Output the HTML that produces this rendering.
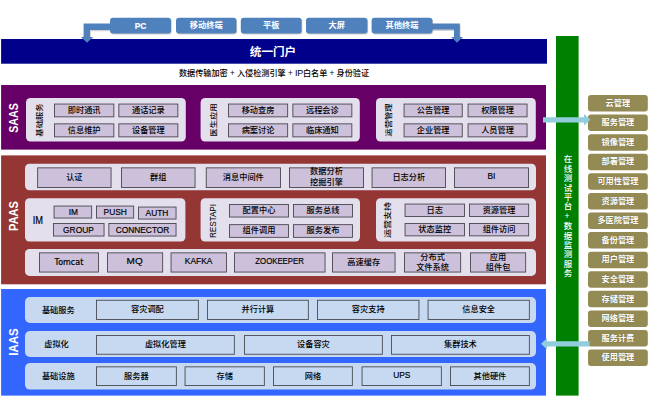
<!DOCTYPE html><html lang="zh"><head><meta charset="utf-8"><title>architecture</title><style>
*{margin:0;padding:0;box-sizing:border-box}
html,body{width:650px;height:418px;background:#fff;overflow:hidden}
body{position:relative;font-family:"Liberation Sans","Noto Sans CJK SC",sans-serif;font-size:8px;color:#000}
svg{position:absolute;left:0;top:0}
.x{position:absolute;display:flex;align-items:center;justify-content:center;text-align:center;line-height:9px;white-space:nowrap;font-size:8.2px;font-weight:500}
.w{color:#fff;font-weight:bold}
.vl{position:absolute;white-space:nowrap;transform-origin:center center;display:flex;align-items:center;justify-content:center;font-weight:500}
.big{color:#fff;font-weight:bold;font-size:12.5px}
.l{display:inline-block;-webkit-text-stroke:.2px currentColor;font-size:9.5px;transform:scaleX(.88);transform-origin:center}
</style></head><body>
<svg width="650" height="418" viewBox="0 0 650 418" shape-rendering="geometricPrecision">
<g fill="#9a9a9a" opacity=".45" transform="translate(0.9,1.3)"><path d="M112 23.4H83.6V37H81L87 42.8L93 37H90V30H112Z"/><path d="M430 23.4H459.8V37H462.8L457 42.8L451.4 37H454V29.6H430Z"/></g>
<g fill="#4F81BD"><path d="M112 23.4H83.6V37H81L87 42.8L93 37H90V30H112Z"/><path d="M430 23.4H459.8V37H462.8L457 42.8L451.4 37H454V29.6H430Z"/></g>
<rect x="1.1" y="39" width="545.9" height="24.7" fill="#00008B"/>
<g fill="#4F81BD"><path d="M83.6 36V37H81L87 42.8L93 37H90V36Z"/><path d="M454 36V37H451.4L457 42.8L462.8 37H459.8V36Z"/></g>
<rect x="110.7" y="18.6" width="61.0" height="16.0" rx="3" fill="rgba(120,120,120,.4)"/>
<rect x="110" y="17.8" width="61" height="15.8" rx="3" fill="#4F81BD"/>
<rect x="176.7" y="18.6" width="60.4" height="16.0" rx="3" fill="rgba(120,120,120,.4)"/>
<rect x="176" y="17.8" width="60.4" height="15.8" rx="3" fill="#4F81BD"/>
<rect x="241.5" y="18.6" width="60.8" height="16.0" rx="3" fill="rgba(120,120,120,.4)"/>
<rect x="240.8" y="17.8" width="60.8" height="15.8" rx="3" fill="#4F81BD"/>
<rect x="306.7" y="18.6" width="61.4" height="16.0" rx="3" fill="rgba(120,120,120,.4)"/>
<rect x="306" y="17.8" width="61.4" height="15.8" rx="3" fill="#4F81BD"/>
<rect x="372.3" y="18.6" width="60.8" height="16.0" rx="3" fill="rgba(120,120,120,.4)"/>
<rect x="371.6" y="17.8" width="60.8" height="15.8" rx="3" fill="#4F81BD"/>
<rect x="1.1" y="85" width="544.9" height="64.6" fill="#660066"/>
<rect x="26" y="98" width="159.8" height="43.5" rx="4.5" fill="#E4DFEC"/>
<rect x="200.6" y="98" width="159.2" height="43.5" rx="4.5" fill="#E4DFEC"/>
<rect x="376" y="98" width="159.8" height="43.5" rx="4.5" fill="#E4DFEC"/>
<rect x="54.45" y="104.05" width="59.4" height="12.8" fill="#CCC0DA" stroke="#4a464e" stroke-width="0.9"/>
<rect x="118.85" y="104.05" width="59.0" height="12.8" fill="#CCC0DA" stroke="#4a464e" stroke-width="0.9"/>
<rect x="54.45" y="123.85" width="59.4" height="13.0" fill="#CCC0DA" stroke="#4a464e" stroke-width="0.9"/>
<rect x="118.85" y="123.85" width="59.0" height="13.0" fill="#CCC0DA" stroke="#4a464e" stroke-width="0.9"/>
<rect x="228.45" y="104.05" width="59.2" height="12.8" fill="#CCC0DA" stroke="#4a464e" stroke-width="0.9"/>
<rect x="292.85" y="104.05" width="59.0" height="12.8" fill="#CCC0DA" stroke="#4a464e" stroke-width="0.9"/>
<rect x="228.45" y="123.85" width="59.2" height="13.0" fill="#CCC0DA" stroke="#4a464e" stroke-width="0.9"/>
<rect x="292.85" y="123.85" width="59.0" height="13.0" fill="#CCC0DA" stroke="#4a464e" stroke-width="0.9"/>
<rect x="404.05" y="104.05" width="58.2" height="12.8" fill="#CCC0DA" stroke="#4a464e" stroke-width="0.9"/>
<rect x="468.05" y="104.05" width="59.0" height="12.8" fill="#CCC0DA" stroke="#4a464e" stroke-width="0.9"/>
<rect x="404.05" y="123.85" width="58.2" height="13.0" fill="#CCC0DA" stroke="#4a464e" stroke-width="0.9"/>
<rect x="468.05" y="123.85" width="59.0" height="13.0" fill="#CCC0DA" stroke="#4a464e" stroke-width="0.9"/>
<rect x="1.1" y="155.4" width="544.9" height="128.9" fill="#943634"/>
<rect x="25" y="163.7" width="511" height="26.5" rx="4.5" fill="#E4DFEC"/>
<rect x="37.65" y="167.85" width="73.4" height="19.7" fill="#CCC0DA" stroke="#4a464e" stroke-width="0.9"/>
<rect x="121.45" y="167.85" width="73.6" height="19.7" fill="#CCC0DA" stroke="#4a464e" stroke-width="0.9"/>
<rect x="206.25" y="167.85" width="74.2" height="19.7" fill="#CCC0DA" stroke="#4a464e" stroke-width="0.9"/>
<rect x="289.45" y="167.85" width="74.1" height="19.7" fill="#CCC0DA" stroke="#4a464e" stroke-width="0.9"/>
<rect x="372.05" y="167.85" width="73.5" height="19.7" fill="#CCC0DA" stroke="#4a464e" stroke-width="0.9"/>
<rect x="454.45" y="167.85" width="74.1" height="19.7" fill="#CCC0DA" stroke="#4a464e" stroke-width="0.9"/>
<rect x="25" y="198.2" width="160.4" height="43.4" rx="4.5" fill="#E4DFEC"/>
<rect x="200.6" y="198.2" width="159.4" height="43.4" rx="4.5" fill="#E4DFEC"/>
<rect x="376" y="198.2" width="160" height="43.4" rx="4.5" fill="#E4DFEC"/>
<rect x="54.05" y="206.05" width="37.6" height="12.0" fill="#CCC0DA" stroke="#4a464e" stroke-width="0.9"/>
<rect x="96.45" y="206.05" width="37.2" height="12.0" fill="#CCC0DA" stroke="#4a464e" stroke-width="0.9"/>
<rect x="138.45" y="207.05" width="37.6" height="12.0" fill="#CCC0DA" stroke="#4a464e" stroke-width="0.9"/>
<rect x="53.45" y="223.45" width="50.6" height="12.6" fill="#CCC0DA" stroke="#4a464e" stroke-width="0.9"/>
<rect x="108.85" y="223.45" width="67.2" height="12.6" fill="#CCC0DA" stroke="#4a464e" stroke-width="0.9"/>
<rect x="229.45" y="204.45" width="59.0" height="12.6" fill="#CCC0DA" stroke="#4a464e" stroke-width="0.9"/>
<rect x="293.45" y="204.45" width="59.0" height="12.6" fill="#CCC0DA" stroke="#4a464e" stroke-width="0.9"/>
<rect x="229.45" y="224.65" width="59.0" height="12.7" fill="#CCC0DA" stroke="#4a464e" stroke-width="0.9"/>
<rect x="293.45" y="224.65" width="59.0" height="12.7" fill="#CCC0DA" stroke="#4a464e" stroke-width="0.9"/>
<rect x="405.05" y="204.05" width="59.4" height="12.4" fill="#CCC0DA" stroke="#4a464e" stroke-width="0.9"/>
<rect x="469.45" y="204.05" width="59.2" height="12.4" fill="#CCC0DA" stroke="#4a464e" stroke-width="0.9"/>
<rect x="405.05" y="223.45" width="59.4" height="12.4" fill="#CCC0DA" stroke="#4a464e" stroke-width="0.9"/>
<rect x="469.45" y="223.45" width="59.2" height="12.4" fill="#CCC0DA" stroke="#4a464e" stroke-width="0.9"/>
<rect x="25" y="249" width="511" height="26.9" rx="4.5" fill="#E4DFEC"/>
<rect x="39.45" y="252.85" width="59.0" height="19.2" fill="#CCC0DA" stroke="#4a464e" stroke-width="0.9"/>
<rect x="107.45" y="252.85" width="55.2" height="19.2" fill="#CCC0DA" stroke="#4a464e" stroke-width="0.9"/>
<rect x="171.05" y="252.85" width="55.4" height="19.2" fill="#CCC0DA" stroke="#4a464e" stroke-width="0.9"/>
<rect x="234.45" y="252.85" width="90.6" height="19.2" fill="#CCC0DA" stroke="#4a464e" stroke-width="0.9"/>
<rect x="332.45" y="252.85" width="62.6" height="19.2" fill="#CCC0DA" stroke="#4a464e" stroke-width="0.9"/>
<rect x="404.45" y="252.85" width="56.2" height="19.2" fill="#CCC0DA" stroke="#4a464e" stroke-width="0.9"/>
<rect x="470.45" y="252.85" width="55.2" height="19.2" fill="#CCC0DA" stroke="#4a464e" stroke-width="0.9"/>
<rect x="1.1" y="289" width="544.9" height="106.6" fill="#3366FF"/>
<rect x="25" y="297" width="511" height="25.9" rx="5" fill="#C6D9F1"/>
<rect x="96.45" y="300.25" width="101.9" height="19.3" fill="#C6D9F1" stroke="#474b52" stroke-width="0.9"/>
<rect x="207.45" y="300.25" width="100.9" height="19.3" fill="#C6D9F1" stroke="#474b52" stroke-width="0.9"/>
<rect x="317.45" y="300.25" width="101.5" height="19.3" fill="#C6D9F1" stroke="#474b52" stroke-width="0.9"/>
<rect x="428.05" y="300.25" width="101.3" height="19.3" fill="#C6D9F1" stroke="#474b52" stroke-width="0.9"/>
<rect x="25" y="331" width="511" height="25.9" rx="5" fill="#C6D9F1"/>
<rect x="96.45" y="335.45" width="137.9" height="18.8" fill="#C6D9F1" stroke="#474b52" stroke-width="0.9"/>
<rect x="244.45" y="335.45" width="137.9" height="18.8" fill="#C6D9F1" stroke="#474b52" stroke-width="0.9"/>
<rect x="391.45" y="335.45" width="137.9" height="18.8" fill="#C6D9F1" stroke="#474b52" stroke-width="0.9"/>
<rect x="25" y="363" width="511" height="26.6" rx="5" fill="#C6D9F1"/>
<rect x="96.45" y="366.85" width="79.9" height="18.7" fill="#C6D9F1" stroke="#474b52" stroke-width="0.9"/>
<rect x="185.05" y="366.85" width="79.3" height="18.7" fill="#C6D9F1" stroke="#474b52" stroke-width="0.9"/>
<rect x="273.45" y="366.85" width="78.9" height="18.7" fill="#C6D9F1" stroke="#474b52" stroke-width="0.9"/>
<rect x="362.05" y="366.85" width="79.3" height="18.7" fill="#C6D9F1" stroke="#474b52" stroke-width="0.9"/>
<rect x="450.45" y="366.85" width="78.9" height="18.7" fill="#C6D9F1" stroke="#474b52" stroke-width="0.9"/>
<rect x="556" y="36" width="22.6" height="359.6" fill="#008000"/>
<rect x="588" y="95.0" width="59.8" height="16.5" rx="3" fill="#948A54"/>
<rect x="588" y="114.58" width="59.8" height="16.5" rx="3" fill="#948A54"/>
<rect x="588" y="134.16" width="59.8" height="16.5" rx="3" fill="#948A54"/>
<rect x="588" y="153.74" width="59.8" height="16.5" rx="3" fill="#948A54"/>
<rect x="588" y="173.32" width="59.8" height="16.5" rx="3" fill="#948A54"/>
<rect x="588" y="192.9" width="59.8" height="16.5" rx="3" fill="#948A54"/>
<rect x="588" y="212.48" width="59.8" height="16.5" rx="3" fill="#948A54"/>
<rect x="588" y="232.06" width="59.8" height="16.5" rx="3" fill="#948A54"/>
<rect x="588" y="251.64" width="59.8" height="16.5" rx="3" fill="#948A54"/>
<rect x="588" y="271.22" width="59.8" height="16.5" rx="3" fill="#948A54"/>
<rect x="588" y="290.8" width="59.8" height="16.5" rx="3" fill="#948A54"/>
<rect x="588" y="310.38" width="59.8" height="16.5" rx="3" fill="#948A54"/>
<rect x="588" y="329.96" width="59.8" height="16.5" rx="3" fill="#948A54"/>
<rect x="588" y="349.54" width="59.8" height="16.5" rx="3" fill="#948A54"/>
<g fill="#92CDDC"><path d="M543 117.2H584V114L590.4 119.8L584 125.6V122.4H543Z"/><path d="M589.6 341.2H547V338.2L541 343.8L547 349.4V346.4H589.6Z"/></g>
</svg>
<div class="x w" style="left:110px;top:17.8px;width:61px;height:15.8px;"><span><span class="l">PC</span></span></div>
<div class="x w" style="left:176px;top:17.8px;width:60.4px;height:15.8px;"><span>移动终端</span></div>
<div class="x w" style="left:240.8px;top:17.8px;width:60.8px;height:15.8px;"><span>平板</span></div>
<div class="x w" style="left:306px;top:17.8px;width:61.4px;height:15.8px;"><span>大屏</span></div>
<div class="x w" style="left:371.6px;top:17.8px;width:60.8px;height:15.8px;"><span>其他终端</span></div>
<div class="x w" style="left:173px;top:45px;width:200px;height:14px;font-size:11.6px;line-height:14px"><span>统一门户</span></div>
<div class="x " style="left:124px;top:67px;width:300px;height:12px;line-height:12px;font-size:8.13px"><span>数据传输加密 + 入侵检测引擎 + <span style="font-size:9px;letter-spacing:-.3px">IP</span>白名单 + 身份验证</span></div>
<div class="vl big" style="left:-16.3px;top:112.0px;width:60px;height:12px;transform:rotate(-90deg) scale(0.85,1.0);">SAAS</div>
<div class="vl " style="left:8.799999999999997px;top:114.3px;width:60px;height:12px;transform:rotate(-90deg) scale(1.04,0.85);font-size:8px">基础服务</div>
<div class="x " style="left:54px;top:103.6px;width:60.3px;height:13.7px;"><span>即时通讯</span></div>
<div class="x " style="left:118.4px;top:103.6px;width:59.9px;height:13.7px;"><span>通话记录</span></div>
<div class="x " style="left:54px;top:123.4px;width:60.3px;height:13.9px;"><span>信息维护</span></div>
<div class="x " style="left:118.4px;top:123.4px;width:59.9px;height:13.9px;"><span>设备管理</span></div>
<div class="vl " style="left:183.0px;top:114.3px;width:60px;height:12px;transform:rotate(-90deg) scale(1.04,0.85);font-size:8px">医生应用</div>
<div class="x " style="left:228px;top:103.6px;width:60.1px;height:13.7px;"><span>移动查房</span></div>
<div class="x " style="left:292.4px;top:103.6px;width:59.9px;height:13.7px;"><span>远程会诊</span></div>
<div class="x " style="left:228px;top:123.4px;width:60.1px;height:13.9px;"><span>病案讨论</span></div>
<div class="x " style="left:292.4px;top:123.4px;width:59.9px;height:13.9px;"><span>临床通知</span></div>
<div class="vl " style="left:358.3px;top:114.3px;width:60px;height:12px;transform:rotate(-90deg) scale(1.04,0.85);font-size:8px">运营管理</div>
<div class="x " style="left:403.6px;top:103.6px;width:59.1px;height:13.7px;"><span>公告管理</span></div>
<div class="x " style="left:467.6px;top:103.6px;width:59.9px;height:13.7px;"><span>权限管理</span></div>
<div class="x " style="left:403.6px;top:123.4px;width:59.1px;height:13.9px;"><span>企业管理</span></div>
<div class="x " style="left:467.6px;top:123.4px;width:59.9px;height:13.9px;"><span>人员管理</span></div>
<div class="vl big" style="left:-16.3px;top:209.6px;width:60px;height:12px;transform:rotate(-90deg) scale(0.88,1.0);">PAAS</div>
<div class="x " style="left:37.2px;top:167.4px;width:74.3px;height:20.6px;"><span>认证</span></div>
<div class="x " style="left:121px;top:167.4px;width:74.5px;height:20.6px;"><span>群组</span></div>
<div class="x " style="left:205.8px;top:167.4px;width:75.1px;height:20.6px;"><span>消息中间件</span></div>
<div class="x " style="left:289px;top:167.4px;width:75.0px;height:20.6px;"><span><span style="line-height:10.2px">数据分析<br>挖掘引擎</span></span></div>
<div class="x " style="left:371.6px;top:167.4px;width:74.4px;height:20.6px;"><span>日志分析</span></div>
<div class="x " style="left:454px;top:165.9px;width:75.0px;height:20.6px;"><span><span class="l">BI</span></span></div>
<div class="x " style="left:28px;top:214.5px;width:20px;height:12.0px;"><span><span class="l" style="font-size:10.5px">IM</span></span></div>
<div class="x " style="left:53.6px;top:205.6px;width:38.5px;height:12.9px;"><span><span class="l">IM</span></span></div>
<div class="x " style="left:96px;top:205.6px;width:38.1px;height:12.9px;"><span><span class="l">PUSH</span></span></div>
<div class="x " style="left:138px;top:206.6px;width:38.5px;height:12.9px;"><span><span class="l">AUTH</span></span></div>
<div class="x " style="left:53px;top:223px;width:51.5px;height:13.5px;"><span><span class="l">GROUP</span></span></div>
<div class="x " style="left:108.4px;top:223px;width:68.1px;height:13.5px;"><span><span class="l">CONNECTOR</span></span></div>
<div class="vl " style="left:183.3px;top:215.0px;width:60px;height:12px;transform:rotate(-90deg) scale(0.9,1.0);font-size:9px">RESTAPI</div>
<div class="x " style="left:229px;top:204px;width:59.9px;height:13.5px;"><span>配置中心</span></div>
<div class="x " style="left:293px;top:204px;width:59.9px;height:13.5px;"><span>服务总线</span></div>
<div class="x " style="left:229px;top:224.2px;width:59.9px;height:13.6px;"><span>组件调用</span></div>
<div class="x " style="left:293px;top:224.2px;width:59.9px;height:13.6px;"><span>服务发布</span></div>
<div class="vl " style="left:357.0px;top:214.0px;width:60px;height:12px;transform:rotate(-90deg) scale(1.13,0.85);font-size:8px">运营支持</div>
<div class="x " style="left:404.6px;top:203.6px;width:60.3px;height:13.3px;"><span>日志</span></div>
<div class="x " style="left:469px;top:203.6px;width:60.1px;height:13.3px;"><span>资源管理</span></div>
<div class="x " style="left:404.6px;top:223px;width:60.3px;height:13.3px;"><span>状态监控</span></div>
<div class="x " style="left:469px;top:223px;width:60.1px;height:13.3px;"><span>组件访问</span></div>
<div class="x " style="left:39px;top:252.4px;width:59.9px;height:20.1px;"><span><span class="l" style="font-family:DejaVu Sans,sans-serif;font-size:8px;transform:scaleX(1)">Tomcat</span></span></div>
<div class="x " style="left:107px;top:251.4px;width:56.1px;height:20.1px;"><span><span class="l" style="transform:scaleX(1.05)">MQ</span></span></div>
<div class="x " style="left:170.6px;top:251.4px;width:56.3px;height:20.1px;"><span><span class="l">KAFKA</span></span></div>
<div class="x " style="left:234px;top:251.4px;width:91.5px;height:20.1px;"><span><span class="l" style="transform:scaleX(.82)">ZOOKEEPER</span></span></div>
<div class="x " style="left:332px;top:252.4px;width:63.5px;height:20.1px;"><span>高速缓存</span></div>
<div class="x " style="left:404px;top:252.4px;width:57.1px;height:20.1px;"><span><span style="line-height:10px;position:relative;top:1px">分布式<br>文件系统</span></span></div>
<div class="x " style="left:470px;top:252.4px;width:56.1px;height:20.1px;"><span><span style="line-height:10px;position:relative;top:1px">应用<br>组件包</span></span></div>
<div class="vl big" style="left:-16.3px;top:335.5px;width:60px;height:12px;transform:rotate(-90deg) scale(0.92,1.0);">IAAS</div>
<div class="x " style="left:30.3px;top:304.35px;width:56.0px;height:12.0px;"><span>基础服务</span></div>
<div class="x " style="left:96px;top:299.8px;width:102.8px;height:20.2px;"><span>容灾调配</span></div>
<div class="x " style="left:207px;top:299.8px;width:101.8px;height:20.2px;"><span>并行计算</span></div>
<div class="x " style="left:317px;top:299.8px;width:102.4px;height:20.2px;"><span>容灾支持</span></div>
<div class="x " style="left:427.6px;top:299.8px;width:102.2px;height:20.2px;"><span>信息安全</span></div>
<div class="x " style="left:28.5px;top:338.35px;width:56.0px;height:12.0px;"><span>虚拟化</span></div>
<div class="x " style="left:96px;top:335px;width:138.8px;height:19.7px;"><span>虚拟化管理</span></div>
<div class="x " style="left:244px;top:335px;width:138.8px;height:19.7px;"><span>设备容灾</span></div>
<div class="x " style="left:391px;top:335px;width:138.8px;height:19.7px;"><span>集群技术</span></div>
<div class="x " style="left:30.3px;top:370.7px;width:56.0px;height:12.0px;"><span>基础设施</span></div>
<div class="x " style="left:96px;top:366.4px;width:80.8px;height:19.6px;"><span>服务器</span></div>
<div class="x " style="left:184.6px;top:366.4px;width:80.2px;height:19.6px;"><span>存储</span></div>
<div class="x " style="left:273px;top:366.4px;width:79.8px;height:19.6px;"><span>网络</span></div>
<div class="x " style="left:361.6px;top:366.4px;width:80.2px;height:19.6px;"><span><span class="l" style="position:relative;top:-1.2px">UPS</span></span></div>
<div class="x " style="left:450px;top:366.4px;width:79.8px;height:19.6px;"><span>其他硬件</span></div>
<div style="position:absolute;left:555.3px;top:154.6px;width:22.6px;height:130px;color:#fff;font-size:8.5px;font-weight:500;line-height:22.6px;writing-mode:vertical-rl;text-orientation:upright;letter-spacing:.85px;white-space:nowrap">在线测试平台+数据监测服务</div>
<div class="x w" style="left:588px;top:95.0px;width:59.8px;height:16.5px;text-shadow:0 0 1px rgba(60,50,0,.5)"><span>云管理</span></div>
<div class="x w" style="left:588px;top:114.58px;width:59.8px;height:16.5px;text-shadow:0 0 1px rgba(60,50,0,.5)"><span>服务管理</span></div>
<div class="x w" style="left:588px;top:134.16px;width:59.8px;height:16.5px;text-shadow:0 0 1px rgba(60,50,0,.5)"><span>镜像管理</span></div>
<div class="x w" style="left:588px;top:153.74px;width:59.8px;height:16.5px;text-shadow:0 0 1px rgba(60,50,0,.5)"><span>部署管理</span></div>
<div class="x w" style="left:588px;top:173.32px;width:59.8px;height:16.5px;text-shadow:0 0 1px rgba(60,50,0,.5)"><span>可用性管理</span></div>
<div class="x w" style="left:588px;top:192.9px;width:59.8px;height:16.5px;text-shadow:0 0 1px rgba(60,50,0,.5)"><span>资源管理</span></div>
<div class="x w" style="left:588px;top:212.48px;width:59.8px;height:16.5px;text-shadow:0 0 1px rgba(60,50,0,.5)"><span>多医院管理</span></div>
<div class="x w" style="left:588px;top:232.06px;width:59.8px;height:16.5px;text-shadow:0 0 1px rgba(60,50,0,.5)"><span>备份管理</span></div>
<div class="x w" style="left:588px;top:251.64px;width:59.8px;height:16.5px;text-shadow:0 0 1px rgba(60,50,0,.5)"><span>用户管理</span></div>
<div class="x w" style="left:588px;top:271.22px;width:59.8px;height:16.5px;text-shadow:0 0 1px rgba(60,50,0,.5)"><span>安全管理</span></div>
<div class="x w" style="left:588px;top:290.8px;width:59.8px;height:16.5px;text-shadow:0 0 1px rgba(60,50,0,.5)"><span>存储管理</span></div>
<div class="x w" style="left:588px;top:310.38px;width:59.8px;height:16.5px;text-shadow:0 0 1px rgba(60,50,0,.5)"><span>网络管理</span></div>
<div class="x w" style="left:588px;top:329.96px;width:59.8px;height:16.5px;text-shadow:0 0 1px rgba(60,50,0,.5)"><span>服务计费</span></div>
<div class="x w" style="left:588px;top:349.54px;width:59.8px;height:16.5px;text-shadow:0 0 1px rgba(60,50,0,.5)"><span>使用管理</span></div>
</body></html>
